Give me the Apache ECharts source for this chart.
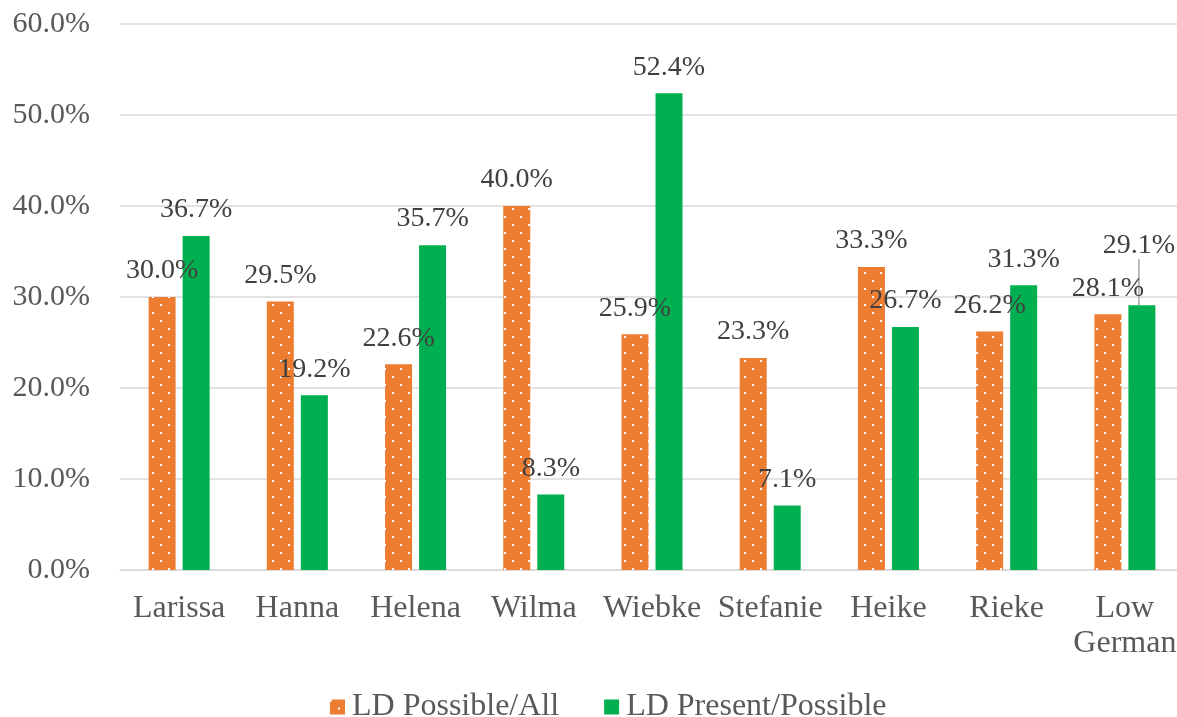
<!DOCTYPE html>
<html>
<head>
<meta charset="utf-8">
<style>
  html, body { margin: 0; padding: 0; background: #ffffff; overflow: hidden; }
  /* the plot area runs a few pixels past the right edge of the window */
  #chart { width: 1185px; height: 717px; }
</style>
<script src="https://cdn.jsdelivr.net/npm/echarts@6/dist/echarts.min.js"></script>
</head>
<body>
<div id="chart"></div>
<script>
// Speakers / varieties along the x axis
const categories = ['Larissa', 'Hanna', 'Helena', 'Wilma', 'Wiebke', 'Stefanie', 'Heike', 'Rieke', 'Low German'];
// Share of contexts where LD is possible, out of all (%)
const possibleAll = [30.0, 29.5, 22.6, 40.0, 25.9, 23.3, 33.3, 26.2, 28.1];
// Share of possible contexts where LD is present (%)
const presentPossible = [36.7, 19.2, 35.7, 8.3, 52.4, 7.1, 26.7, 31.3, 29.1];
// Value-axis ticks (%)
const yTicks = [0, 10, 20, 30, 40, 50, 60];

const FONT = 'Liberation Serif';
const ORANGE = '#ED7D31';
const GREEN = '#00B050';

// Orange fill with a staggered grid of small white dots
function dotPattern() {
  const c = document.createElement('canvas');
  c.width = 16; c.height = 16;
  const g = c.getContext('2d');
  g.fillStyle = ORANGE;
  g.fillRect(0, 0, 16, 16);
  g.fillStyle = '#ffffff';
  g.fillRect(0, 0, 2, 2);
  g.fillRect(8, 8, 2, 2);
  return c;
}

const chart = echarts.init(document.getElementById('chart'), null, { renderer: 'canvas' });

const labelStyle = {
  show: true,
  position: 'top',
  distance: 12,
  fontFamily: FONT,
  fontSize: 28,
  color: '#404040',
  formatter: p => p.value.toFixed(1) + '%'
};

// The last green label is lifted above its neighbour and tied back with a leader line
const presentData = presentPossible.map((v, i) =>
  i === categories.length - 1
    ? { value: v, labelLine: { show: true, lineStyle: { color: '#A6A6A6', width: 1.5 } } }
    : v
);

chart.setOption({
  animation: false,
  backgroundColor: '#ffffff',
  textStyle: { fontFamily: FONT },
  grid: { left: 120, top: 24, right: 1, height: 546, containLabel: false },
  legend: {
    top: 686,
    left: 325,
    itemWidth: 15,
    itemHeight: 15,
    itemGap: 45,
    icon: 'rect',
    textStyle: { fontFamily: FONT, fontSize: 32, color: '#595959', padding: [0, 0, 0, 2] },
    data: ['LD Possible/All', 'LD Present/Possible']
  },
  xAxis: {
    type: 'category',
    data: categories,
    axisLine: { show: true, lineStyle: { color: '#D9D9D9', width: 1.5 } },
    axisTick: { show: false },
    axisLabel: {
      margin: 21,
      fontFamily: FONT,
      fontSize: 32,
      lineHeight: 35,
      color: '#595959',
      interval: 0,
      formatter: v => v.replace(' ', '\n')
    }
  },
  yAxis: {
    type: 'value',
    min: yTicks[0],
    max: yTicks[yTicks.length - 1],
    interval: yTicks[1] - yTicks[0],
    axisLine: { show: false },
    axisTick: { show: false },
    splitLine: { lineStyle: { color: '#D9D9D9', width: 1.5 } },
    axisLabel: {
      margin: 30,
      fontFamily: FONT,
      fontSize: 30,
      color: '#595959',
      formatter: v => v.toFixed(1) + '%'
    }
  },
  series: [
    {
      name: 'LD Possible/All',
      type: 'bar',
      data: possibleAll,
      barWidth: 27,
      barGap: '26%',
      itemStyle: { color: { image: dotPattern(), repeat: 'repeat' } },
      label: labelStyle
    },
    {
      name: 'LD Present/Possible',
      type: 'bar',
      data: presentData,
      barWidth: 27,
      barGap: '26%',
      itemStyle: { color: GREEN },
      label: labelStyle,
      labelLayout: p => (p.dataIndex === categories.length - 1 ? { dx: -3, dy: -34 } : {})
    }
  ]
});
</script>
</body>
</html>
